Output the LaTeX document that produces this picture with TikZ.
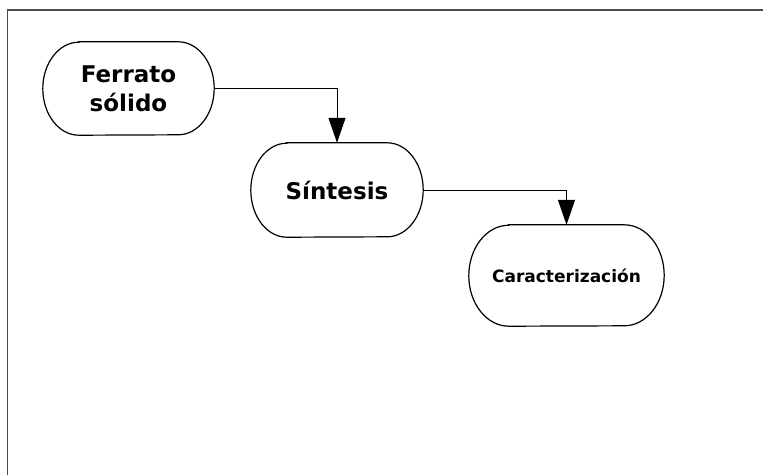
\documentclass[tikz,border=0pt]{standalone}
\usepackage{fontspec}
\setmainfont{DejaVu Sans}
\usetikzlibrary{arrows.meta}
\newcommand\mystadium[3]{%
  \draw[line width=1.2pt] ([xshift=#2]#1.north west) -- ([xshift=-#2]#1.north east)
    arc[start angle=90, end angle=-90, x radius=#2, y radius=#3]
    -- ([xshift=#2]#1.south west)
    arc[start angle=270, end angle=90, x radius=#2, y radius=#3] -- cycle;}
\begin{document}
\begin{tikzpicture}[x=1pt,y=-1pt,
  proc/.style={inner sep=0pt, align=center, font=\bfseries},
  arr/.style={line width=1pt, -{Triangle[length=25pt,width=17pt]}}]
\useasboundingbox (0,0) rectangle (763,475);
\draw[line width=1.3pt, color=black!70] (7.5,475) -- (7.5,10) -- (763,10);
\node[proc, minimum width=171pt, minimum height=93pt, font=\bfseries\fontsize{23}{29}\selectfont] (f) at (128.5,88.5) {Ferrato\\sólido};
\node[proc, minimum width=172pt, minimum height=94pt, font=\bfseries\fontsize{23}{29}\selectfont] (s) at (337,190) {Síntesis};
\node[proc, minimum width=195pt, minimum height=101pt, font=\bfseries\fontsize{17}{21}\selectfont] (c) at (566.5,275.5) {Caracterización};
\mystadium{f}{36pt}{46.5pt}
\mystadium{s}{36pt}{47pt}
\mystadium{c}{40pt}{50.5pt}
\draw[arr] (f.east) -| (s.north);
\draw[arr] (s.east) -| (c.north);
\end{tikzpicture}
\end{document}
